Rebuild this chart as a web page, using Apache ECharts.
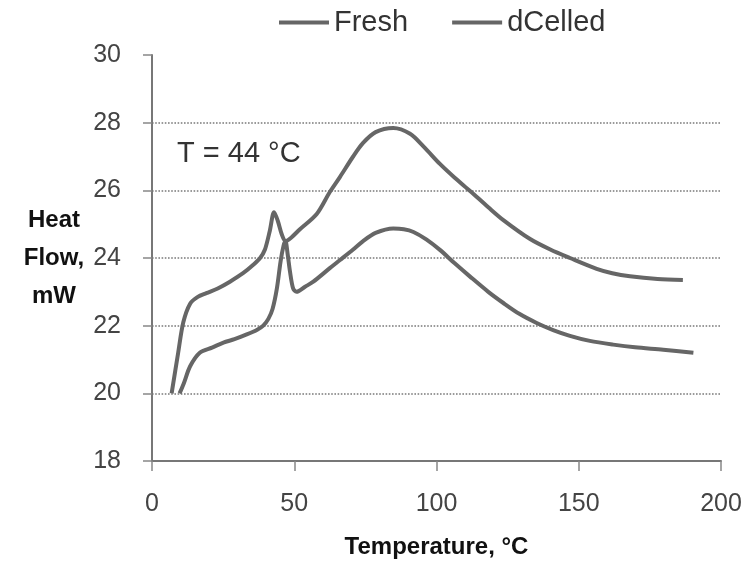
<!DOCTYPE html>
<html>
<head>
<meta charset="utf-8">
<title>Heat Flow vs Temperature</title>
<script src="https://cdn.jsdelivr.net/npm/echarts@6/dist/echarts.min.js"></script>
<style>
  html, body { margin: 0; padding: 0; background: #fff; }
  #chart { width: 747px; height: 567px; }
</style>
</head>
<body>
<div id="chart"></div>
<script>
// DSC traces: temperature (°C) and heat flow (mW)
const freshTemp = [6.9, 9.2, 11.0, 13.4, 16.1, 19.1, 23.1, 27.4, 32.0, 35.6, 38.0, 39.7, 41.4, 42.9, 44.2, 45.6, 46.9, 48.9, 52.0, 57.9, 62.5, 66.1, 70.7, 74.2, 78.6, 84.8, 90.7, 95.4, 101.2, 106.3, 111.8, 118.2, 123.5, 132.9, 140.0, 146.9, 156.3, 161.8, 168.0, 177.7, 186.6];
const freshFlow = [20.0, 21.2, 22.1, 22.65, 22.85, 22.96, 23.1, 23.3, 23.55, 23.8, 24.0, 24.25, 24.8, 25.35, 25.1, 24.7, 24.5, 24.6, 24.85, 25.3, 25.95, 26.4, 27.0, 27.4, 27.72, 27.84, 27.67, 27.3, 26.78, 26.38, 25.98, 25.5, 25.12, 24.56, 24.25, 24.0, 23.68, 23.55, 23.46, 23.38, 23.35];

const dcelledTemp = [9.7, 11.2, 13.4, 16.8, 21.1, 25.1, 29.0, 33.3, 37.0, 39.1, 40.9, 42.4, 43.9, 45.2, 46.2, 46.9, 47.7, 48.5, 49.6, 50.8, 53.8, 56.7, 62.5, 66.1, 70.7, 74.2, 78.6, 84.8, 88.5, 91.9, 96.4, 101.2, 106.3, 111.8, 118.2, 123.5, 129.1, 135.2, 141.0, 146.9, 153.9, 162.1, 169.8, 179.7, 190.3];
const dcelledFlow = [20.0, 20.3, 20.8, 21.2, 21.35, 21.5, 21.6, 21.74, 21.88, 22.0, 22.2, 22.5, 23.1, 23.9, 24.35, 24.5, 24.1, 23.6, 23.1, 23.0, 23.15, 23.3, 23.7, 23.94, 24.25, 24.5, 24.74, 24.87, 24.85, 24.77, 24.55, 24.24, 23.85, 23.45, 23.0, 22.67, 22.35, 22.08, 21.87, 21.7, 21.55, 21.44, 21.36, 21.29, 21.2];

const seriesNames = ['Fresh', 'dCelled'];
const xTicks = { min: 0, max: 200, interval: 50 };
const yTicks = { min: 18, max: 30, interval: 2 };
const annotation = 'T = 44 \u00B0C';

const pair = (xs, ys) => xs.map((x, i) => [x, ys[i]]);

const chart = echarts.init(document.getElementById('chart'));
const font = 'Liberation Sans, Arial, sans-serif';
const traceColor = '#666666';

chart.setOption({
  animation: false,
  backgroundColor: '#fff',
  textStyle: { fontFamily: font },
  grid: { left: 152, right: 26, top: 55, bottom: 106, outerBoundsMode: 'none', containLabel: false },
  legend: {
    data: seriesNames,
    left: 279,
    top: 8,
    padding: 0,
    icon: 'rect',
    itemWidth: 50,
    itemHeight: 4,
    itemGap: 44,
    textStyle: { fontSize: 29, color: '#333', fontFamily: font }
  },
  xAxis: {
    type: 'value',
    min: xTicks.min,
    max: xTicks.max,
    interval: xTicks.interval,
    name: 'Temperature, \u00B0C',
    nameLocation: 'middle',
    nameGap: 74,
    nameMoveOverlap: false,
    nameTextStyle: { fontSize: 24, fontWeight: 'bold', color: '#111', fontFamily: font },
    axisLine: { lineStyle: { color: '#777', width: 2 } },
    axisTick: { show: true, length: 10, lineStyle: { color: '#888', width: 1.5 } },
    axisLabel: { fontSize: 25, color: '#444', margin: 31, fontFamily: font },
    splitLine: { show: false }
  },
  yAxis: {
    type: 'value',
    min: yTicks.min,
    max: yTicks.max,
    interval: yTicks.interval,
    name: 'Heat\nFlow,\nmW',
    nameLocation: 'middle',
    nameRotate: 0,
    nameGap: 98,
    nameMoveOverlap: false,
    nameTextStyle: {
      fontSize: 24, fontWeight: 'bold', color: '#111', fontFamily: font,
      align: 'center', verticalAlign: 'middle', lineHeight: 38,
      padding: [10, 0, 0, 0]
    },
    axisLine: { show: true, lineStyle: { color: '#777', width: 2 } },
    axisTick: { show: true, length: 9, lineStyle: { color: '#888', width: 1.5 } },
    axisLabel: { fontSize: 25, color: '#444', margin: 31, fontFamily: font },
    splitLine: {
      show: true,
      showMinLine: false,
      showMaxLine: false,
      lineStyle: { type: 'dotted', color: '#7a7a7a', width: 1.6 }
    }
  },
  graphic: [{
    type: 'text',
    left: 177,
    top: 139,
    style: { text: annotation, fontSize: 29, fill: '#333', fontFamily: font }
  }],
  series: [
    {
      name: seriesNames[0],
      type: 'line',
      data: pair(freshTemp, freshFlow),
      showSymbol: false,
      symbol: 'none',
      smooth: 0.3,
      lineStyle: { color: traceColor, width: 4 },
      itemStyle: { color: traceColor }
    },
    {
      name: seriesNames[1],
      type: 'line',
      data: pair(dcelledTemp, dcelledFlow),
      showSymbol: false,
      symbol: 'none',
      smooth: 0.3,
      lineStyle: { color: traceColor, width: 4 },
      itemStyle: { color: traceColor }
    }
  ]
});
</script>
</body>
</html>
